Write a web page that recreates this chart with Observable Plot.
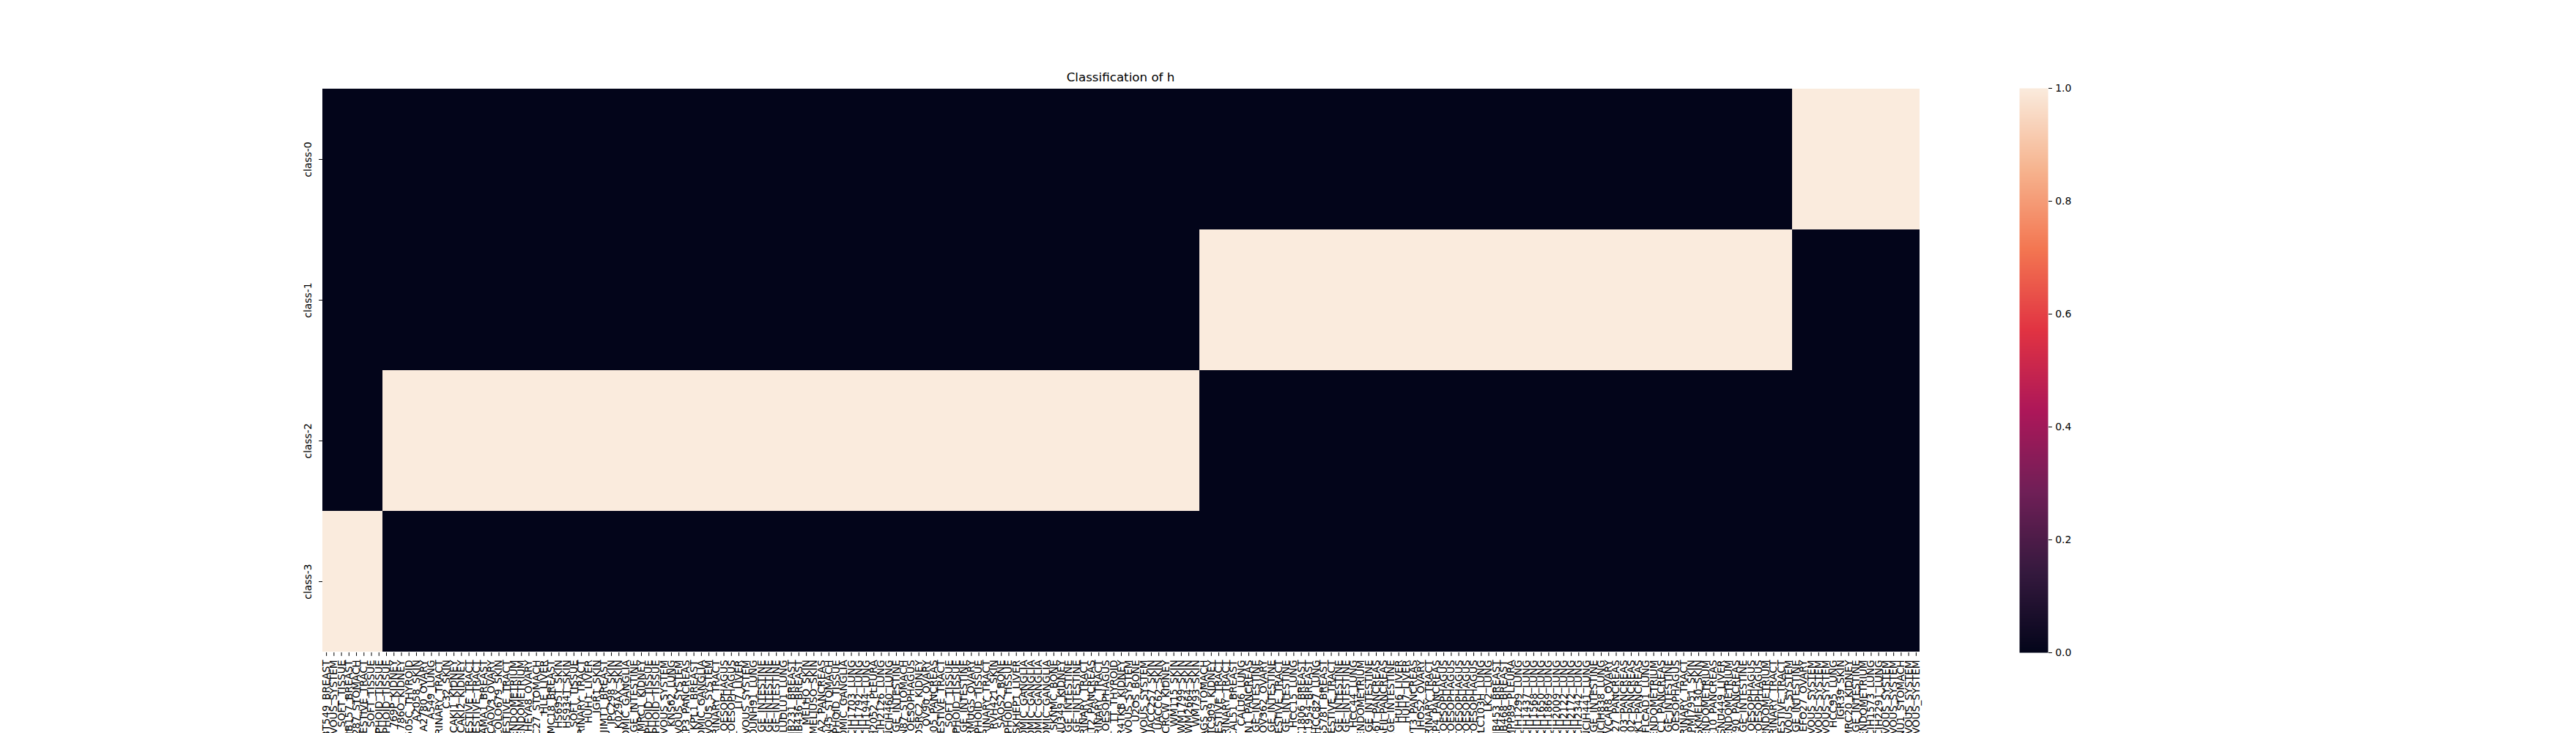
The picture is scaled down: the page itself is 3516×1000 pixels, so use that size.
<!DOCTYPE html>
<html>
<head>
<meta charset="utf-8">
<script src="https://cdn.jsdelivr.net/npm/d3@7"></script>
<script src="https://cdn.jsdelivr.net/npm/@observablehq/plot@0.6"></script>
<style>
  html, body { margin: 0; padding: 0; background: #fff; overflow: hidden; width: 3516px; height: 1000px; }
  #wrap { position: relative; width: 3516px; height: 1000px; font-family: "DejaVu Sans", sans-serif; color: #000; }
  #title { position: absolute; left: 0; top: 97px; width: 3059px; text-align: center; font-size: 16.7px; line-height: 1; }
  #main { position: absolute; left: 0; top: 0; }
  #cbar { position: absolute; left: 2756px; top: 110px; }
</style>
</head>
<body>
<div id="wrap">
  <div id="main"></div>
  <div id="title">Classification of h</div>
  <div id="cbar"></div>
</div>
<script>
// ---- data ----
const classes = ["class-0", "class-1", "class-2", "class-3"];

const class3Samples = [
  "BT549_BREAST", "DKMG_CENTRAL_NERVOUS_SYSTEM", "HS729_SOFT_TISSUE", "MDAMB157_BREAST",
  "SNU287_STOMACH", "SNU1076_UPPER_AERODIGESTIVE_TRACT", "SW982_SOFT_TISSUE", "U937_HAEMATOPOIETIC_AND_LYMPHOID_TISSUE"
];

const class2Samples = [
  "697_HAEMATOPOIETIC_AND_LYMPHOID_TISSUE", "769P_KIDNEY", "786O_KIDNEY", "8505C_THYROID", "A2058_SKIN",
  "A2780_OVARY", "A549_LUNG", "BFTC905_URINARY_TRACT", "C32_SKIN", "CAKI1_KIDNEY",
  "CAKI2_KIDNEY", "CAL27_UPPER_AERODIGESTIVE_TRACT", "CAL33_UPPER_AERODIGESTIVE_TRACT", "CAMA1_BREAST", "CAOV3_OVARY",
  "COLO679_SKIN", "DETROIT562_UPPER_AERODIGESTIVE_TRACT", "EFE184_ENDOMETRIUM", "EN_ENDOMETRIUM", "HEYA8_OVARY",
  "HGC27_STOMACH", "HLE_LIVER", "HMC18_BREAST", "HS695T_SKIN", "HS934T_SKIN",
  "HT1080_SOFT_TISSUE", "HT1376_URINARY_TRACT", "HUH1_LIVER", "IGR1_SKIN", "JIMT1_BREAST",
  "IPC298_SKIN", "K029AX_SKIN", "KELLY_AUTONOMIC_GANGLIA", "KM12_LARGE_INTESTINE", "KMRC1_KIDNEY",
  "KMS11_HAEMATOPOIETIC_AND_LYMPHOID_TISSUE", "KMS12BM_HAEMATOPOIETIC_AND_LYMPHOID_TISSUE", "KNS42_CENTRAL_NERVOUS_SYSTEM", "KNS62_LUNG", "KNS81_CENTRAL_NERVOUS_SYSTEM",
  "KP3_PANCREAS", "KPL1_BREAST", "KPNYN_AUTONOMIC_GANGLIA", "KS1_CENTRAL_NERVOUS_SYSTEM", "KU1919_URINARY_TRACT",
  "KYSE30_OESOPHAGUS", "KYSE70_OESOPHAGUS", "LI7_LIVER", "LN229_CENTRAL_NERVOUS_SYSTEM", "LOUNH91_LUNG",
  "LOVO_LARGE_INTESTINE", "LS180_LARGE_INTESTINE", "LS411N_LARGE_INTESTINE", "LUDLU1_LUNG", "MDAMB231_BREAST",
  "MDAMB436_BREAST", "MELHO_SKIN", "MELJUSO_SKIN", "MIAPACA2_PANCREAS", "MKN45_STOMACH",
  "MOLM13_HAEMATOPOIETIC_AND_LYMPHOID_TISSUE", "NB1_AUTONOMIC_GANGLIA", "NCIH1703_LUNG", "NCIH1792_LUNG", "NCIH1944_LUNG",
  "NCIH2052_PLEURA", "NCIH2126_LUNG", "NCIH460_LUNG", "NCIH716_LARGE_INTESTINE", "NCIN87_STOMACH",
  "OE33_OESOPHAGUS", "OSRC2_KIDNEY", "OV90_OVARY", "PANC1005_PANCREAS", "PECAPJ49_UPPER_AERODIGESTIVE_TRACT",
  "RD_SOFT_TISSUE", "REH_HAEMATOPOIETIC_AND_LYMPHOID_TISSUE", "RKO_LARGE_INTESTINE", "RMUGS_OVARY", "RPMI8226_HAEMATOPOIETIC_AND_LYMPHOID_TISSUE",
  "RT4_URINARY_TRACT", "RVH421_SKIN", "SAOS2_BONE", "SEM_HAEMATOPOIETIC_AND_LYMPHOID_TISSUE", "SKHEP1_LIVER",
  "SKNAS_AUTONOMIC_GANGLIA", "SKNBE2_AUTONOMIC_GANGLIA", "SKNDZ_AUTONOMIC_GANGLIA", "SKNFI_AUTONOMIC_GANGLIA", "SKNMC_BONE",
  "SNU349_KIDNEY", "SNU407_LARGE_INTESTINE", "SNUC1_LARGE_INTESTINE", "SW1710_URINARY_TRACT", "SUIT2_PANCREAS",
  "SW780_URINARY_TRACT", "TE1_OESOPHAGUS", "TT_THYROID", "TUHR4TKB_KIDNEY", "U118MG_CENTRAL_NERVOUS_SYSTEM",
  "U2OS_BONE", "U87MG_CENTRAL_NERVOUS_SYSTEM", "UACC257_SKIN", "UACC62_SKIN", "VMRCRCW_KIDNEY",
  "WM115_SKIN", "WM1799_SKIN", "WM2664_SKIN", "WM793_SKIN"
];

const class1Samples = [
  "AGS_STOMACH", "BFTC909_KIDNEY", "BICR16_UPPER_AERODIGESTIVE_TRACT", "CAL29_URINARY_TRACT", "CAL51_BREAST",
  "CALU6_LUNG", "CAPAN1_PANCREAS", "CCK81_LARGE_INTESTINE", "COV362_OVARY", "CW2_LARGE_INTESTINE",
  "FADU_UPPER_AERODIGESTIVE_TRACT", "GP2D_LARGE_INTESTINE", "HCC15_LUNG", "HCC1806_BREAST", "HCC1954_BREAST",
  "HCC827_LUNG", "HS578T_BREAST", "HSC2_UPPER_AERODIGESTIVE_TRACT", "HT29_LARGE_INTESTINE", "HT55_LARGE_INTESTINE",
  "HCC44_LUNG", "HEC1A_ENDOMETRIUM", "HT115_LARGE_INTESTINE", "HS766T_PANCREAS", "HPAFII_PANCREAS",
  "HCT15_LARGE_INTESTINE", "HUH6_LIVER", "HUH7_LIVER", "HUPT3_PANCREAS", "JHOS2_OVARY",
  "J82_URINARY_TRACT", "KP4_PANCREAS", "KYSE150_OESOPHAGUS", "KYSE180_OESOPHAGUS", "KYSE450_OESOPHAGUS",
  "KYSE510_OESOPHAGUS", "KYSE520_OESOPHAGUS", "LCLC103H_LUNG", "LK2_LUNG", "MDAMB453_BREAST",
  "MDAMB468_BREAST", "MPP89_PLEURA", "NCIH1299_LUNG", "NCIH1437_LUNG", "NCIH1568_LUNG",
  "NCIH1650_LUNG", "NCIH1869_LUNG", "NCIH2009_LUNG", "NCIH2122_LUNG", "NCIH2172_LUNG",
  "NCIH2342_LUNG", "NCIH441_LUNG", "NCIH747_LARGE_INTESTINE", "NCIH838_LUNG", "OVCAR8_OVARY",
  "PANC0327_PANCREAS", "PANC0403_PANCREAS", "PATU8902_PANCREAS", "PK1_PANCREAS", "RERFLCAD1_LUNG",
  "RL952_ENDOMETRIUM", "PANC1_PANCREAS", "RCM1_LARGE_INTESTINE", "OE21_OESOPHAGUS", "RT112_URINARY_TRACT",
  "RPMI7951_SKIN", "SKMEL30_SKIN", "SNGM_ENDOMETRIUM", "SNU410_PANCREAS", "SNU449_LIVER",
  "SNU1077_ENDOMETRIUM", "SW1990_PANCREAS", "SW480_LARGE_INTESTINE", "TE10_OESOPHAGUS", "TE11_OESOPHAGUS",
  "TEN_ENDOMETRIUM", "UMUC3_URINARY_TRACT", "YD38_UPPER_AERODIGESTIVE_TRACT", "U251MG_CENTRAL_NERVOUS_SYSTEM"
];

const class0Samples = [
  "CL34_LARGE_INTESTINE", "EFO27_OVARY", "GAMG_CENTRAL_NERVOUS_SYSTEM", "GB1_CENTRAL_NERVOUS_SYSTEM", "H4_CENTRAL_NERVOUS_SYSTEM",
  "HCC95_LUNG", "IGR39_SKIN", "KMRC20_KIDNEY", "LS1034_LARGE_INTESTINE", "MFE296_ENDOMETRIUM",
  "NCIH1573_LUNG", "NCIH2291_LUNG", "SF295_CENTRAL_NERVOUS_SYSTEM", "SNB75_CENTRAL_NERVOUS_SYSTEM", "SNU1_STOMACH",
  "SW1088_CENTRAL_NERVOUS_SYSTEM", "YKG1_CENTRAL_NERVOUS_SYSTEM"
];

const colorbarTicks = [0.0, 0.2, 0.4, 0.6, 0.8, 1.0];

// ---- styles (seaborn "rocket" colormap key colours) ----
const rocketDomain = [0, 1/7, 2/7, 3/7, 4/7, 5/7, 6/7, 1];
const rocketRange = ["#03051a", "#35193e", "#701f57", "#ad1759", "#e13342", "#f37651", "#f6b48f", "#faebdd"];

// ---- table built from the arrays ----
const groups = [
  {cls: "class-3", list: class3Samples},
  {cls: "class-2", list: class2Samples},
  {cls: "class-1", list: class1Samples},
  {cls: "class-0", list: class0Samples}
];
const samples = groups.flatMap(g => g.list);
const sampleClass = groups.flatMap(g => g.list.map(() => g.cls));
const idx = samples.map((_, i) => i);
const cells = [];
idx.forEach(i => {
  classes.forEach(c => cells.push({i, cls: c, value: sampleClass[i] === c ? 1 : 0}));
});

const font = {fontFamily: "'DejaVu Sans', sans-serif", fontSize: "13.9px", color: "black", background: "transparent", overflow: "visible"};
const colorScale = {type: "linear", domain: rocketDomain, range: rocketRange, interpolate: "rgb"};

const main = Plot.plot({
  width: 3516,
  height: 1000,
  marginTop: 120,
  marginBottom: 110,
  marginLeft: 440,
  marginRight: 896,
  style: font,
  x: {type: "band", domain: idx, padding: 0, ticks: idx, tickFormat: i => samples[i],
      tickRotate: -90, tickSize: 4.86, tickPadding: 4.86, label: null},
  y: {type: "band", domain: classes, padding: 0, tickRotate: -90, tickSize: 4.86, tickPadding: 11, label: null},
  color: colorScale,
  marks: [
    Plot.cell(cells, {x: "i", y: "cls", fill: "value", inset: 0, shapeRendering: "crispEdges"})
  ]
});
document.getElementById("main").appendChild(main);

const cbar = Plot.plot({
  width: 120,
  height: 790,
  marginTop: 10,
  marginBottom: 10,
  marginLeft: 0,
  marginRight: 81,
  style: font,
  x: {domain: [0, 1], axis: null},
  y: {domain: [0, 1], axis: null},
  color: colorScale,
  marks: [
    Plot.raster({x1: 0, x2: 1, y1: 0, y2: 1, fill: (x, y) => y, imageRendering: "auto"}),
    Plot.axisY(colorbarTicks, {anchor: "right", tickSize: 4.86, tickPadding: 4.86, tickFormat: d3.format(".1f"), label: null})
  ]
});
document.getElementById("cbar").appendChild(cbar);
</script>
</body>
</html>
